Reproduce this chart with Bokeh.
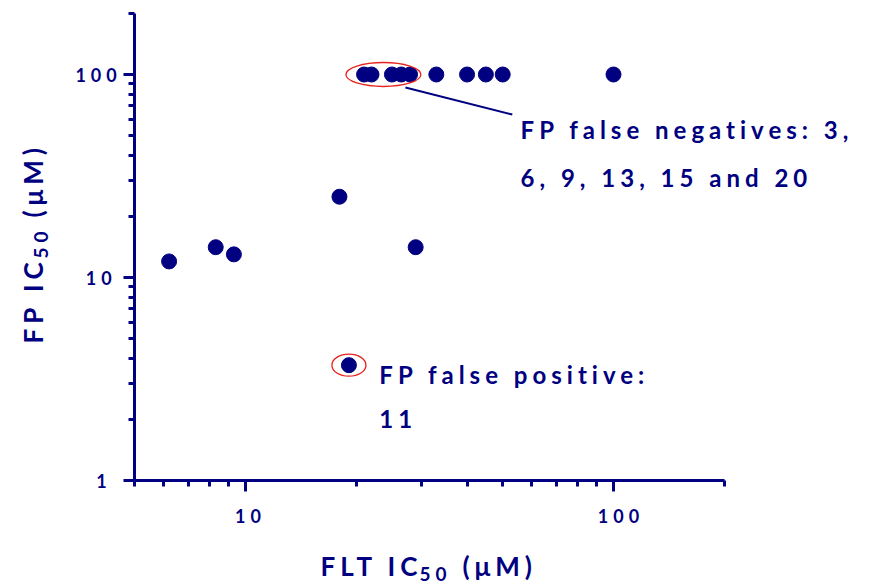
from math import pi
from bokeh.plotting import figure
from bokeh.models import FixedTicker, Range1d, InlineStyleSheet, Label, PrintfTickFormatter
from bokeh.embed import file_html
from bokeh.resources import INLINE

# FLT vs FP IC50 values (uM)
flt_ic50 = [6.2, 8.3, 9.3, 18.0, 29.0, 19.1,
            21.0, 22.0, 25.0, 26.5, 28.0, 33.0, 40.0, 45.0, 50.0, 100.0]
fp_ic50 = [12.0, 14.1, 13.0, 25.0, 14.1, 3.7,
           100.0, 100.0, 100.0, 100.0, 100.0, 100.0, 100.0, 100.0, 100.0, 100.0]

# highlighted groups (ellipse centres)
neg_group_x, neg_group_y = [23.7], [100.0]
pos_group_x, pos_group_y = [19.1], [3.7]

# leader line from the false-negative group to its note
leader_x = [27.2, 53.1]
leader_y = [86.3, 63.5]

notes_neg = ["FP false negatives: 3,", "6, 9, 13, 15 and 20"]
notes_neg_x = [55.9, 55.9]
notes_neg_y = [53.6, 31.2]
notes_pos = ["FP false positive:", "11"]
notes_pos_x = [23.1, 23.1]
notes_pos_y = [3.33, 2.0]

x_major = [10, 100]
x_minor = [5, 6, 7, 8, 9, 20, 30, 40, 50, 60, 70, 80, 90, 200]
y_major = [1, 10, 100]
y_minor = [2, 3, 4, 5, 6, 7, 8, 9, 20, 30, 40, 50, 60, 70, 80, 90, 200]
x_axis_span = (5, 200)
y_axis_span = (1, 200)

# axis titles, split so that the "50" can be set as a subscript
x_title = ["FLT IC", "50", "(μM)"]
y_title = ["FP IC", "50", "(μM)"]

NAVY = "#000080"
FONT = "Lato"

# the frame fills the whole canvas; the axes are pinned at x=5 and y=1
# and only drawn over their spans, leaving room for titles and notes
p = figure(width=879, height=586, x_axis_type="log", y_axis_type="log",
           x_range=Range1d(2.159, 528.2), y_range=Range1d(0.3005, 231.5),
           output_backend="svg", toolbar_location=None,
           min_border=0)
p.stylesheets = [InlineStyleSheet(css=":host { letter-spacing: 5px; }")]
p.outline_line_color = None
p.xgrid.visible = False
p.ygrid.visible = False
p.background_fill_color = "white"
p.border_fill_color = "white"

for ax in (p.xaxis[0], p.yaxis[0]):
    ax.axis_line_color = NAVY
    ax.axis_line_width = 3
    ax.major_tick_line_color = NAVY
    ax.minor_tick_line_color = NAVY
    ax.major_tick_line_width = 3
    ax.minor_tick_line_width = 3
    ax.major_tick_in = 0
    ax.minor_tick_in = 0
    ax.major_tick_out = 11
    ax.minor_tick_out = 6
    ax.major_label_text_color = NAVY
    ax.major_label_text_font = FONT
    ax.major_label_text_font_style = "bold"
    ax.major_label_text_font_size = "18px"
    ax.formatter = PrintfTickFormatter(format="%d")

p.xaxis[0].fixed_location = y_axis_span[0]
p.yaxis[0].fixed_location = x_axis_span[0]
p.xaxis[0].bounds = x_axis_span
p.yaxis[0].bounds = y_axis_span
p.xaxis[0].ticker = FixedTicker(ticks=x_major, minor_ticks=x_minor)
p.yaxis[0].ticker = FixedTicker(ticks=y_major, minor_ticks=y_minor)
p.xaxis[0].major_label_standoff = 17
p.yaxis[0].major_label_standoff = 17

# data points
p.scatter(flt_ic50, fp_ic50, marker="circle", size=15,
          fill_color=NAVY, line_color=NAVY)

# red highlight ellipses
p.ellipse(x=neg_group_x, y=neg_group_y, width=75, height=24,
          width_units="screen", height_units="screen",
          fill_color=None, line_color="#e8231f", line_width=1.3)
p.ellipse(x=pos_group_x, y=pos_group_y, width=34, height=22,
          width_units="screen", height_units="screen",
          fill_color=None, line_color="#e8231f", line_width=1.3)

# leader line
p.line(leader_x, leader_y, line_color=NAVY, line_width=2)

# notes
for tx, ty, tt in ((notes_neg_x, notes_neg_y, notes_neg),
                   (notes_pos_x, notes_pos_y, notes_pos)):
    for xi, yi, ti in zip(tx, ty, tt):
        p.add_layout(Label(x=xi, y=yi, text=ti, text_font=FONT,
                           text_font_style="bold", text_font_size="24px",
                           text_color=NAVY, text_align="left",
                           text_baseline="alphabetic"))

# axis titles in screen units: main text, subscript, unit
def title_piece(sx, sy, text, size, along, across, angle):
    if angle:
        xo, yo = across, along
    else:
        xo, yo = along, -across
    p.add_layout(Label(x=sx + xo, y=sy + yo, x_units="screen", y_units="screen",
                       text=text, angle=angle, text_font=FONT,
                       text_font_style="bold", text_font_size=size,
                       text_color=NAVY, text_align="left",
                       text_baseline="alphabetic"))

for (sx, sy), pieces, angle, sub_at, unit_at in (
        ((320, 21), x_title, 0, 99, 142),
        ((32, 243), y_title, pi / 2, 85, 126)):
    title_piece(sx, sy, pieces[0], "26px", 0, 0, angle)
    title_piece(sx, sy, pieces[1], "19px", sub_at, 8, angle)
    title_piece(sx, sy, pieces[2], "26px", unit_at, 0, angle)

open("out.html", "w").write(file_html(p, INLINE))
